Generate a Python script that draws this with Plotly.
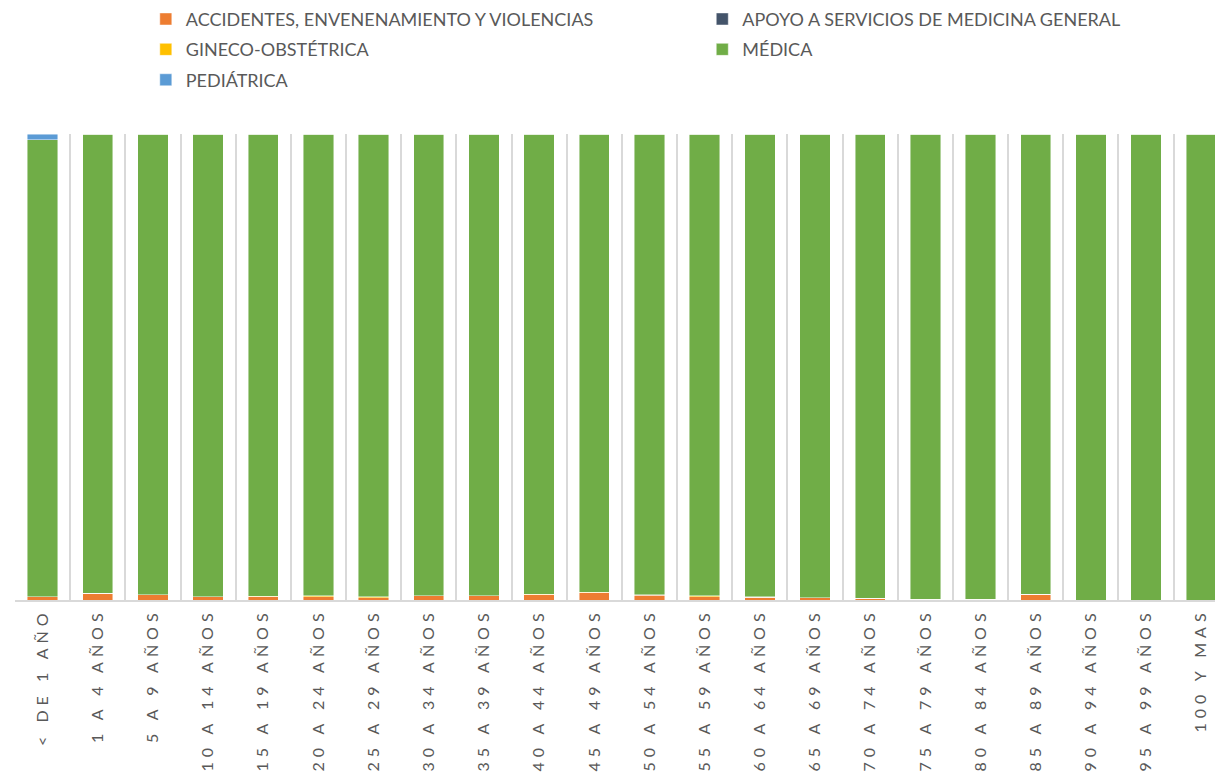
import plotly.graph_objects as go

categories = ["< DE 1 AÑO", "1 A 4 AÑOS", "5 A 9 AÑOS", "10 A 14 AÑOS", "15 A 19 AÑOS",
              "20 A 24 AÑOS", "25 A 29 AÑOS", "30 A 34 AÑOS", "35 A 39 AÑOS", "40 A 44 AÑOS",
              "45 A 49 AÑOS", "50 A 54 AÑOS", "55 A 59 AÑOS", "60 A 64 AÑOS", "65 A 69 AÑOS",
              "70 A 74 AÑOS", "75 A 79 AÑOS", "80 A 84 AÑOS", "85 A 89 AÑOS", "90 A 94 AÑOS",
              "95 A 99 AÑOS", "100 Y MAS"]

accidentes = [0.7, 1.5, 1.1, 0.7, 0.7, 0.7, 0.5, 0.9, 0.9, 1.1, 1.6, 1.0, 0.7, 0.6, 0.5,
              0.4, 0.2, 0.2, 1.2, 0.0, 0.0, 0.0]
apoyo = [0, 0, 0, 0, 0, 0, 0, 0, 0, 0, 0, 0.15, 0, 0, 0, 0, 0, 0, 0, 0, 0, 0]
gineco = [0, 0, 0, 0, 0.1, 0.2, 0.2, 0, 0, 0.1, 0.1, 0, 0.2, 0.1, 0, 0, 0, 0, 0, 0, 0, 0]
medica = [98.1, 98.5, 98.9, 99.3, 99.2, 99.1, 99.3, 99.1, 99.1, 98.8, 98.3, 98.85, 99.1,
          99.3, 99.5, 99.6, 99.8, 99.8, 98.8, 100, 100, 100]
pediatrica = [1.2, 0, 0, 0, 0, 0, 0, 0, 0, 0, 0, 0, 0, 0, 0, 0, 0, 0, 0, 0, 0, 0]

series = [
    ("ACCIDENTES, ENVENENAMIENTO Y VIOLENCIAS", accidentes, "#ED7D31", "legend"),
    ("APOYO A SERVICIOS DE MEDICINA GENERAL", apoyo, "#44546A", "legend2"),
    ("GINECO-OBSTÉTRICA", gineco, "#FFC000", "legend"),
    ("MÉDICA", medica, "#70AD47", "legend2"),
    ("PEDIÁTRICA", pediatrica, "#5B9BD5", "legend"),
]

FONT = "Lato, 'Open Sans', sans-serif"
fig = go.Figure()
for name, vals, color, lg in series:
    fig.add_trace(go.Bar(
        x=categories, y=vals, name=name, legend=lg, legendgroup=name,
        marker=dict(color=color, line=dict(color="rgba(255,255,255,0.6)", width=0.75)),
    ))

legend_common = dict(
    orientation="v", xanchor="left", yanchor="top", xref="container", yref="container",
    font=dict(size=18, color="#595959", family=FONT), tracegroupgap=4,
    bgcolor="rgba(0,0,0,0)", borderwidth=0, itemwidth=30,
)
fig.update_layout(
    barmode="stack", barnorm="percent", bargap=0.45,
    width=1215, height=774,
    margin=dict(l=15, r=0, t=134, b=174, autoexpand=False),
    paper_bgcolor="white", plot_bgcolor="white",
    font=dict(family=FONT, color="#595959"),
    legend=dict(x=0.120, y=0.999, **legend_common),
    legend2=dict(x=0.578, y=0.999, **legend_common),
    showlegend=True,
)
fig.update_xaxes(
    type="category", range=[-0.5, 21.25], tickson="boundaries",
    showgrid=True, gridcolor="#D9D9D9", gridwidth=2,
    showline=True, linecolor="#D9D9D9", linewidth=2,
    ticks="", tickangle=-90, tickfont=dict(size=16, color="#595959", family=FONT),
)
fig.update_yaxes(range=[0, 100], showgrid=False, showticklabels=False, zeroline=False)

post = ("document.body.style.margin='0';"
        "var s=document.createElement('style');"
        "s.innerHTML='.xtick text{letter-spacing:5px}';"
        "document.head.appendChild(s);")
fig.write_html("out.html", post_script=post, config={"displayModeBar": False})
